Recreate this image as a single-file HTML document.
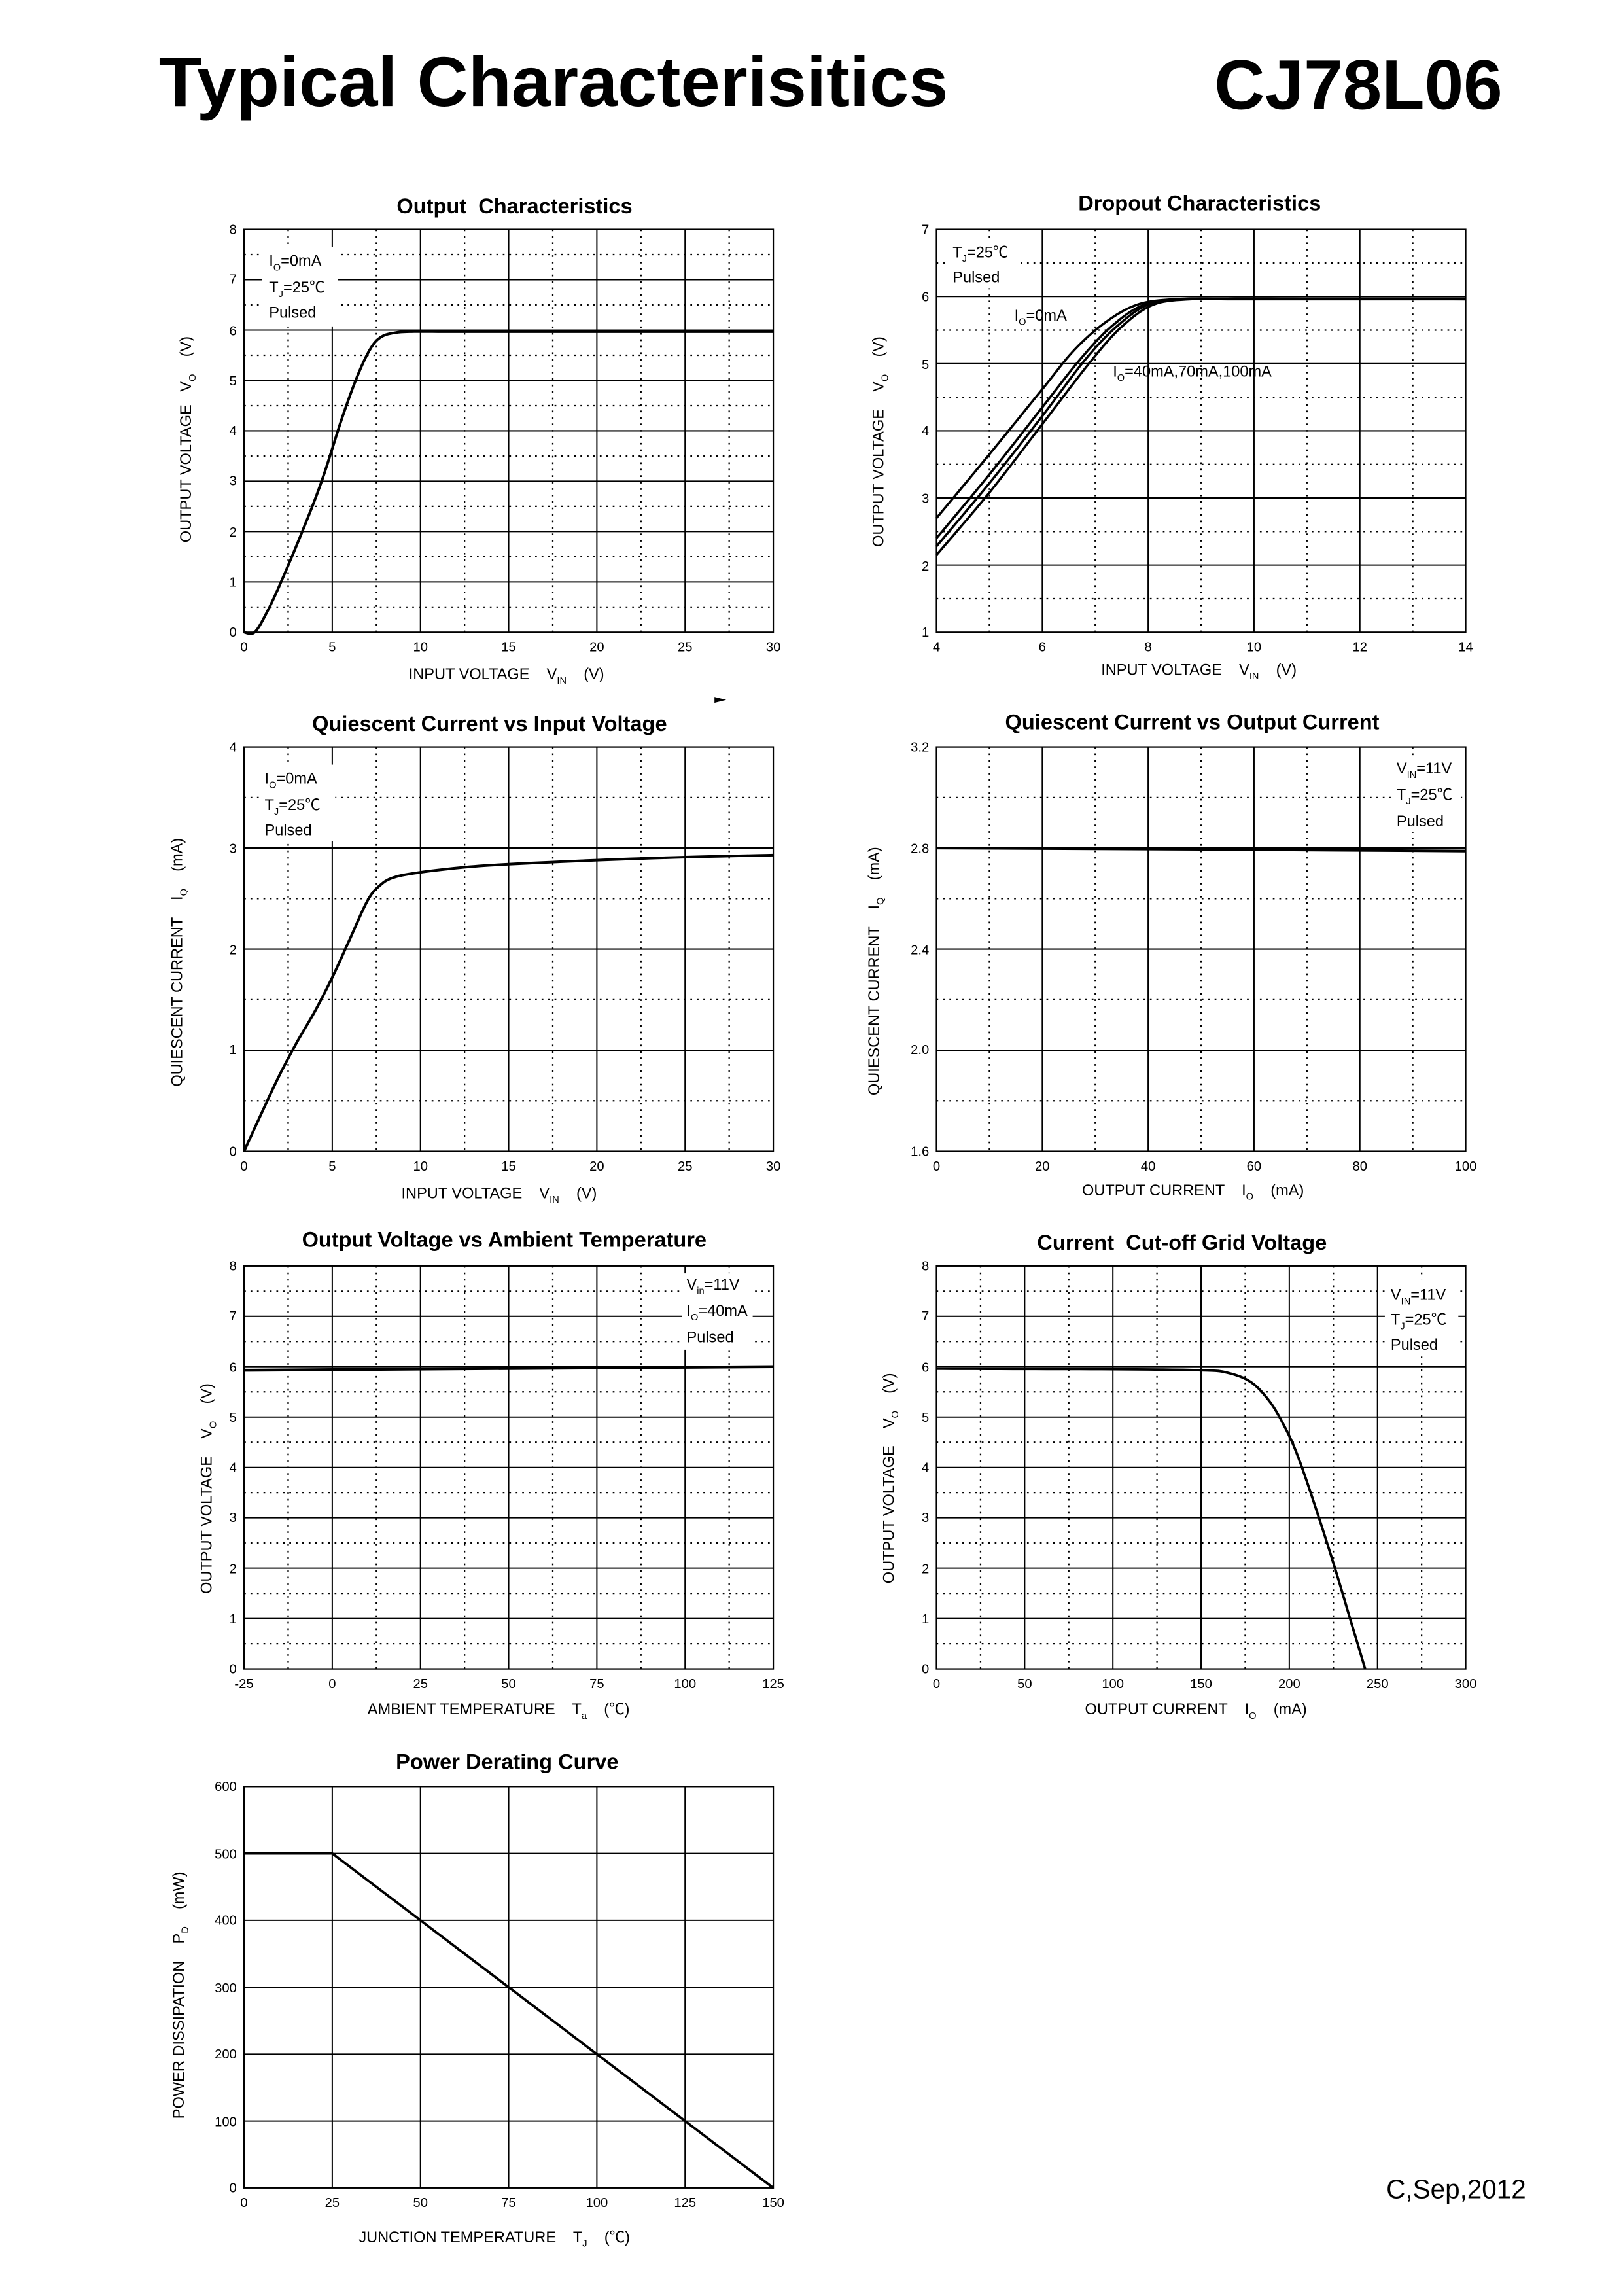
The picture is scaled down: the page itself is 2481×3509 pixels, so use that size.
<!DOCTYPE html>
<html><head><meta charset="utf-8">
<style>
html,body{margin:0;padding:0;background:#fff;}
svg{display:block;}
text{font-family:"Liberation Sans","Noto Sans CJK SC",sans-serif;fill:#000;white-space:pre;}
.t{font-size:9px;}
.ti{font-size:14.5px;font-weight:bold;}
.ax{font-size:10.5px;}
.lg{font-size:10.5px;}
.sb{font-size:6.5px;}
</style></head>
<body>
<svg id="s" width="2481" height="3509" viewBox="0 0 1104 1561.5" preserveAspectRatio="none" xmlns="http://www.w3.org/2000/svg" xml:space="preserve">
<rect width="1104" height="1561.5" fill="#fff"/>
<g id="g"></g>
<text x="108" y="72" style="font-size:48px;font-weight:bold" textLength="537" lengthAdjust="spacingAndGlyphs">Typical Characterisitics</text>
<text x="826" y="74" style="font-size:48px;font-weight:bold" textLength="196" lengthAdjust="spacingAndGlyphs">CJ78L06</text>
<text x="943" y="1495" style="font-size:18px">C,Sep,2012</text>

<text class="ti" x="350" y="145" text-anchor="middle">Output  Characteristics</text>
<g class="t" text-anchor="end"><text x="161" y="433">0</text><text x="161" y="399">1</text><text x="161" y="365">2</text><text x="161" y="330">3</text><text x="161" y="296">4</text><text x="161" y="262">5</text><text x="161" y="228">6</text><text x="161" y="193">7</text><text x="161" y="159">8</text></g>
<g class="t" text-anchor="middle"><text x="166" y="443">0</text><text x="226" y="443">5</text><text x="286" y="443">10</text><text x="346" y="443">15</text><text x="406" y="443">20</text><text x="466" y="443">25</text><text x="526" y="443">30</text></g>
<text class="ax" x="278" y="462">INPUT VOLTAGE    V<tspan class="sb" dy="3">IN</tspan><tspan dy="-3">    (V)</tspan></text>
<text class="ax" transform="translate(130,369) rotate(-90)">OUTPUT VOLTAGE   V<tspan class="sb" dy="3">O</tspan><tspan dy="-3">    (V)</tspan></text>
<rect x="178" y="168" width="52" height="54" fill="#fff"/>
<text class="lg" x="183" y="181">I<tspan class="sb" dy="3">O</tspan><tspan dy="-3">=0mA</tspan></text>
<text class="lg" x="183" y="199">T<tspan class="sb" dy="3">J</tspan><tspan dy="-3">=25℃</tspan></text>
<text class="lg" x="183" y="216">Pulsed</text>

<text class="ti" x="816" y="143" text-anchor="middle">Dropout Characteristics</text>
<g class="t" text-anchor="end"><text x="632" y="433">1</text><text x="632" y="388">2</text><text x="632" y="342">3</text><text x="632" y="296">4</text><text x="632" y="251">5</text><text x="632" y="205">6</text><text x="632" y="159">7</text></g>
<g class="t" text-anchor="middle"><text x="637" y="443">4</text><text x="709" y="443">6</text><text x="781" y="443">8</text><text x="853" y="443">10</text><text x="925" y="443">12</text><text x="997" y="443">14</text></g>
<text class="ax" x="749" y="459">INPUT VOLTAGE    V<tspan class="sb" dy="3">IN</tspan><tspan dy="-3">    (V)</tspan></text>
<text class="ax" transform="translate(601,372) rotate(-90)">OUTPUT VOLTAGE    V<tspan class="sb" dy="3">O</tspan><tspan dy="-3">    (V)</tspan></text>
<rect x="645" y="162" width="48" height="34" fill="#fff"/>
<text class="lg" x="648" y="175">T<tspan class="sb" dy="3">J</tspan><tspan dy="-3">=25℃</tspan></text>
<text class="lg" x="648" y="192">Pulsed</text>
<text class="lg" x="690" y="218">I<tspan class="sb" dy="3">O</tspan><tspan dy="-3">=0mA</tspan></text>
<text class="lg" x="757" y="256">I<tspan class="sb" dy="3">O</tspan><tspan dy="-3">=40mA,70mA,100mA</tspan></text>

<text class="ti" x="333" y="497" text-anchor="middle">Quiescent Current vs Input Voltage</text>
<g class="t" text-anchor="end"><text x="161" y="786">0</text><text x="161" y="717">1</text><text x="161" y="649">2</text><text x="161" y="580">3</text><text x="161" y="511">4</text></g>
<g class="t" text-anchor="middle"><text x="166" y="796">0</text><text x="226" y="796">5</text><text x="286" y="796">10</text><text x="346" y="796">15</text><text x="406" y="796">20</text><text x="466" y="796">25</text><text x="526" y="796">30</text></g>
<text class="ax" x="273" y="815">INPUT VOLTAGE    V<tspan class="sb" dy="3">IN</tspan><tspan dy="-3">    (V)</tspan></text>
<text class="ax" transform="translate(124,739) rotate(-90)">QUIESCENT CURRENT    I<tspan class="sb" dy="3">Q</tspan><tspan dy="-3">    (mA)</tspan></text>
<rect x="176" y="520" width="52" height="52" fill="#fff"/>
<text class="lg" x="180" y="533">I<tspan class="sb" dy="3">O</tspan><tspan dy="-3">=0mA</tspan></text>
<text class="lg" x="180" y="551">T<tspan class="sb" dy="3">J</tspan><tspan dy="-3">=25℃</tspan></text>
<text class="lg" x="180" y="568">Pulsed</text>

<text class="ti" x="811" y="496" text-anchor="middle">Quiescent Current vs Output Current</text>
<g class="t" text-anchor="end"><text x="632" y="786">1.6</text><text x="632" y="717">2.0</text><text x="632" y="649">2.4</text><text x="632" y="580">2.8</text><text x="632" y="511">3.2</text></g>
<g class="t" text-anchor="middle"><text x="637" y="796">0</text><text x="709" y="796">20</text><text x="781" y="796">40</text><text x="853" y="796">60</text><text x="925" y="796">80</text><text x="997" y="796">100</text></g>
<text class="ax" x="736" y="813">OUTPUT CURRENT    I<tspan class="sb" dy="3">O</tspan><tspan dy="-3">    (mA)</tspan></text>
<text class="ax" transform="translate(598,745) rotate(-90)">QUIESCENT CURRENT    I<tspan class="sb" dy="3">Q</tspan><tspan dy="-3">    (mA)</tspan></text>
<rect x="946" y="514" width="48" height="52" fill="#fff"/>
<text class="lg" x="950" y="526">V<tspan class="sb" dy="3">IN</tspan><tspan dy="-3">=11V</tspan></text>
<text class="lg" x="950" y="544">T<tspan class="sb" dy="3">J</tspan><tspan dy="-3">=25℃</tspan></text>
<text class="lg" x="950" y="562">Pulsed</text>

<text class="ti" x="343" y="848" text-anchor="middle">Output Voltage vs Ambient Temperature</text>
<g class="t" text-anchor="end"><text x="161" y="1138">0</text><text x="161" y="1104">1</text><text x="161" y="1070">2</text><text x="161" y="1035">3</text><text x="161" y="1001">4</text><text x="161" y="967">5</text><text x="161" y="933">6</text><text x="161" y="898">7</text><text x="161" y="864">8</text></g>
<g class="t" text-anchor="middle"><text x="166" y="1148">-25</text><text x="226" y="1148">0</text><text x="286" y="1148">25</text><text x="346" y="1148">50</text><text x="406" y="1148">75</text><text x="466" y="1148">100</text><text x="526" y="1148">125</text></g>
<text class="ax" x="250" y="1166">AMBIENT TEMPERATURE    T<tspan class="sb" dy="3">a</tspan><tspan dy="-3">    (℃)</tspan></text>
<text class="ax" transform="translate(144,1084) rotate(-90)">OUTPUT VOLTAGE    V<tspan class="sb" dy="3">O</tspan><tspan dy="-3">    (V)</tspan></text>
<rect x="464" y="866" width="48" height="52" fill="#fff"/>
<text class="lg" x="467" y="877">V<tspan class="sb" dy="3">in</tspan><tspan dy="-3">=11V</tspan></text>
<text class="lg" x="467" y="895">I<tspan class="sb" dy="3">O</tspan><tspan dy="-3">=40mA</tspan></text>
<text class="lg" x="467" y="913">Pulsed</text>

<text class="ti" x="804" y="850" text-anchor="middle">Current  Cut-off Grid Voltage</text>
<g class="t" text-anchor="end"><text x="632" y="1138">0</text><text x="632" y="1104">1</text><text x="632" y="1070">2</text><text x="632" y="1035">3</text><text x="632" y="1001">4</text><text x="632" y="967">5</text><text x="632" y="933">6</text><text x="632" y="898">7</text><text x="632" y="864">8</text></g>
<g class="t" text-anchor="middle"><text x="637" y="1148">0</text><text x="697" y="1148">50</text><text x="757" y="1148">100</text><text x="817" y="1148">150</text><text x="877" y="1148">200</text><text x="937" y="1148">250</text><text x="997" y="1148">300</text></g>
<text class="ax" x="738" y="1166">OUTPUT CURRENT    I<tspan class="sb" dy="3">O</tspan><tspan dy="-3">    (mA)</tspan></text>
<text class="ax" transform="translate(608,1077) rotate(-90)">OUTPUT VOLTAGE    V<tspan class="sb" dy="3">O</tspan><tspan dy="-3">    (V)</tspan></text>
<rect x="942" y="870" width="50" height="52" fill="#fff"/>
<text class="lg" x="946" y="884">V<tspan class="sb" dy="3">IN</tspan><tspan dy="-3">=11V</tspan></text>
<text class="lg" x="946" y="901">T<tspan class="sb" dy="3">J</tspan><tspan dy="-3">=25℃</tspan></text>
<text class="lg" x="946" y="918">Pulsed</text>

<text class="ti" x="345" y="1203" text-anchor="middle">Power Derating Curve</text>
<g class="t" text-anchor="end"><text x="161" y="1491">0</text><text x="161" y="1446">100</text><text x="161" y="1400">200</text><text x="161" y="1355">300</text><text x="161" y="1309">400</text><text x="161" y="1264">500</text><text x="161" y="1218">600</text></g>
<g class="t" text-anchor="middle"><text x="166" y="1501">0</text><text x="226" y="1501">25</text><text x="286" y="1501">50</text><text x="346" y="1501">75</text><text x="406" y="1501">100</text><text x="466" y="1501">125</text><text x="526" y="1501">150</text></g>
<text class="ax" x="244" y="1525">JUNCTION TEMPERATURE    T<tspan class="sb" dy="3">J</tspan><tspan dy="-3">    (℃)</tspan></text>
<text class="ax" transform="translate(125,1441) rotate(-90)">POWER DISSIPATION    P<tspan class="sb" dy="3">D</tspan><tspan dy="-3">    (mW)</tspan></text>
<path d="M486,474 l8,2 l-8,2z" fill="#000"/>
</svg>
<script>
(function(){
var g=document.getElementById('g'),out='';
function chart(c){
  var L=c.L,R=c.R,T=c.T,B=c.B,nx=c.nx,ny=c.ny,i,x,y;
  var dx=(R-L)/nx,dy=(B-T)/ny;
  if(c.dot){
    for(i=0;i<nx;i++){x=L+dx*(i+.5);out+='<line x1="'+x+'" y1="'+T+'" x2="'+x+'" y2="'+B+'" stroke="#000" stroke-width="1" stroke-dasharray="1.2,3.2"/>';}
    for(i=0;i<ny;i++){y=T+dy*(i+.5);out+='<line x1="'+L+'" y1="'+y+'" x2="'+R+'" y2="'+y+'" stroke="#000" stroke-width="1" stroke-dasharray="1.2,3.2"/>';}
  }
  for(i=1;i<nx;i++){x=L+dx*i;out+='<line x1="'+x+'" y1="'+T+'" x2="'+x+'" y2="'+B+'" stroke="#000" stroke-width="0.9"/>';}
  for(i=1;i<ny;i++){y=T+dy*i;out+='<line x1="'+L+'" y1="'+y+'" x2="'+R+'" y2="'+y+'" stroke="#000" stroke-width="0.9"/>';}
  out+='<rect x="'+L+'" y="'+T+'" width="'+(R-L)+'" height="'+(B-T)+'" fill="none" stroke="#000" stroke-width="1"/>';
  (c.curves||[]).forEach(function(pts){
    var d='';
    pts.forEach(function(p,k){var X=L+(p[0]-c.x0)/(c.x1-c.x0)*(R-L),Y=B-(p[1]-c.y0)/(c.y1-c.y0)*(B-T);d+=(k?'L':'M')+X.toFixed(2)+','+Y.toFixed(2);});
    out+='<path d="'+d+'" fill="none" stroke="#000" stroke-width="'+(c.w||1.6)+'" stroke-linejoin="round"/>';
  });
}
function smooth(pts,n){
  var r=[];for(var i=0;i<pts.length-1;i++){var p0=pts[Math.max(0,i-1)],p1=pts[i],p2=pts[i+1],p3=pts[Math.min(pts.length-1,i+2)];
  for(var t=0;t<1;t+=1/n){var t2=t*t,t3=t2*t;r.push([0.5*((2*p1[0])+(-p0[0]+p2[0])*t+(2*p0[0]-5*p1[0]+4*p2[0]-p3[0])*t2+(-p0[0]+3*p1[0]-3*p2[0]+p3[0])*t3),0.5*((2*p1[1])+(-p0[1]+p2[1])*t+(2*p0[1]-5*p1[1]+4*p2[1]-p3[1])*t2+(-p0[1]+3*p1[1]-3*p2[1]+p3[1])*t3)]);}}
  r.push(pts[pts.length-1]);return r;}
chart({L:166,R:526,T:156,B:430,nx:6,ny:8,dot:1,x0:0,x1:30,y0:0,y1:8,curves:[smooth([[0,0],[0.6,0],[1.3,0.4],[2.1,1],[3.3,2],[4.4,3],[5.6,4.3],[6.5,5.15],[7.2,5.65],[7.8,5.87],[8.6,5.95],[9.5,5.97],[11,5.97],[15,5.97],[20,5.97],[30,5.97]],8)],w:1.8});
chart({L:637,R:997,T:156,B:430,nx:5,ny:6,dot:1,x0:4,x1:14,y0:1,y1:7,curves:[
 smooth([[4,2.7],[5,3.65],[6,4.62],[6.6,5.2],[7.2,5.62],[7.8,5.88],[8.5,5.96],[9.5,5.97],[11,5.97],[14,5.97]],8),
 smooth([[4,2.4],[5,3.35],[6,4.35],[6.7,5.05],[7.3,5.55],[7.9,5.87],[8.6,5.96],[9.5,5.97],[11,5.97],[14,5.97]],8),
 smooth([[4,2.28],[5,3.22],[6,4.22],[6.8,5.05],[7.4,5.55],[8,5.88],[8.7,5.96],[9.5,5.97],[11,5.97],[14,5.96]],8),
 smooth([[4,2.15],[5,3.08],[6,4.1],[6.9,5.02],[7.5,5.55],[8.1,5.88],[8.8,5.96],[9.5,5.96],[11,5.96],[14,5.96]],8)
],w:1.6});
chart({L:166,R:526,T:508,B:783,nx:6,ny:4,dot:1,x0:0,x1:30,y0:0,y1:4,curves:[smooth([[0,0],[1,0.38],[2,0.75],[3,1.08],[4,1.38],[5,1.72],[6,2.1],[7,2.48],[7.7,2.63],[8.5,2.71],[10,2.76],[12.5,2.81],[15,2.84],[20,2.88],[25,2.91],[30,2.93]],8)],w:1.8});
chart({L:637,R:997,T:508,B:783,nx:5,ny:4,dot:1,x0:0,x1:100,y0:1.6,y1:3.2,curves:[[[0,2.8],[50,2.795],[100,2.788]]],w:1.8});
chart({L:166,R:526,T:861,B:1135,nx:6,ny:8,dot:1,x0:-25,x1:125,y0:0,y1:8,curves:[[[-25,5.93],[125,6.0]]],w:2});
chart({L:637,R:997,T:861,B:1135,nx:6,ny:8,dot:1,x0:0,x1:300,y0:0,y1:8,curves:[smooth([[0,5.96],[50,5.955],[100,5.95],[150,5.93],[165,5.88],[178,5.7],[188,5.35],[196,4.9],[204,4.3],[214,3.3],[225,2.1],[234,1.05],[243,0]],8)],w:1.7});
chart({L:166,R:526,T:1215,B:1488,nx:6,ny:6,dot:0,x0:0,x1:150,y0:0,y1:600,curves:[[[0,500],[25,500],[150,0]]],w:1.7});
g.innerHTML=out;
})();
</script>
</body></html>
